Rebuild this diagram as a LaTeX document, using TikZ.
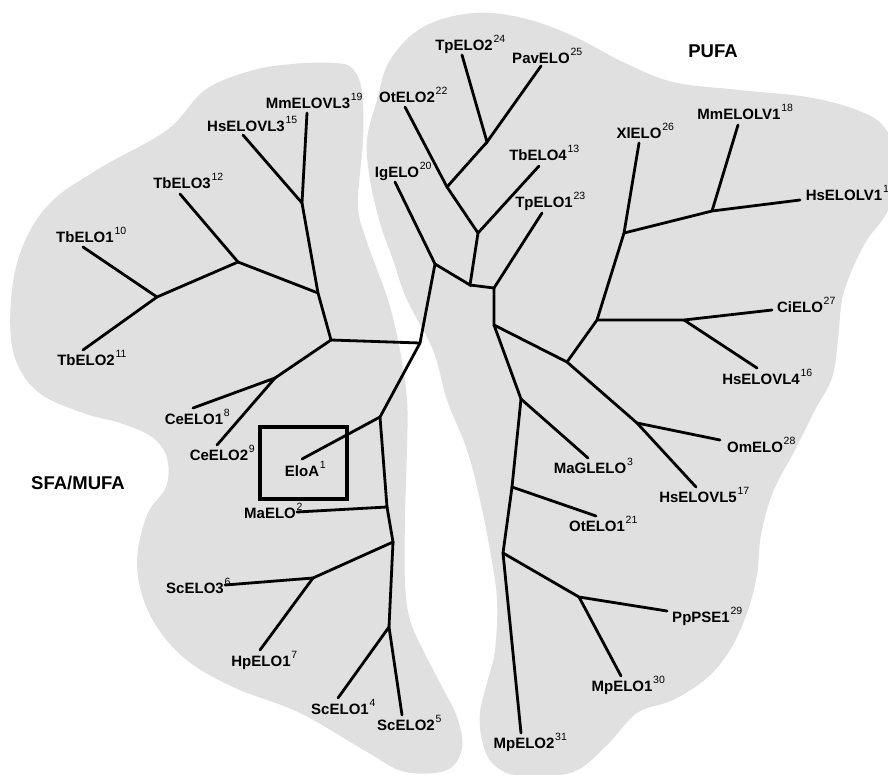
\documentclass[tikz,border=0pt]{standalone}
\usepackage{fontspec}
\setmainfont{Liberation Sans}
\definecolor{BlobGray}{RGB}{224,224,224}
\newcommand{\seqlab}[2]{#1\rlap{\kern0.8pt\raisebox{8pt}{\fontsize{10.5}{10.5}\selectfont\mdseries #2}}}

\begin{document}
\begin{tikzpicture}[x=1pt, y=-1pt,
    branch/.style={line width=2.8pt, line cap=round},
    seq/.style={font=\fontsize{15}{15}\selectfont\bfseries, inner sep=0pt, text height=10.7pt, text depth=0pt},
    group/.style={font=\fontsize{18.5}{18.5}\selectfont\bfseries}]
    \clip (0,0) rectangle (888,774);

    % Groups
    \fill[BlobGray] plot[smooth cycle, tension=0.6] coordinates {
      (292,64) (335,63) (353,69) (362,92) (363,140) (358,205) (367,242) (388,300)
      (400,350) (407,400) (407,450) (405,517) (405,583) (410,620) (423,650) (440,683)
      (457,717) (462,748) (447,770) (405,772) (367,752) (300,713) (233,687) (183,657)
      (150,615) (137,565) (147,515) (166,487) (167,458) (152,437) (120,423) (83,413)
      (38,392) (14,355) (11,300) (22,248) (50,203) (100,168) (167,130) (205,90) (250,71)};
    \fill[BlobGray] plot[smooth cycle, tension=0.6] coordinates {
      (377,100) (390,60) (423,27) (473,13) (523,18) (573,36) (623,62) (673,82)
      (740,90) (807,97) (857,110) (885,128) (898,165) (888,210) (867,240) (852,270)
      (842,300) (838,340) (832,378) (815,410) (795,450) (773,492) (761,535) (757,575)
      (747,613) (730,650) (707,678) (673,700) (637,713) (607,745) (573,772) (520,776)
      (493,764) (482,740) (480,712) (487,683) (495,650) (497,600) (490,550) (480,500)
      (467,450) (447,400) (433,350) (407,300) (393,260) (380,223) (370,180) (367,140)};

    % Junctions
    \coordinate (jA) at (302,203);
    \coordinate (jB) at (238,262);
    \coordinate (jC) at (157,297);
    \coordinate (jD) at (318,293);
    \coordinate (jE) at (331,340);
    \coordinate (jF) at (420,343);
    \coordinate (jG) at (275,378);
    \coordinate (jI) at (380,417);
    \coordinate (jJ) at (387,507);
    \coordinate (jK) at (393,542);
    \coordinate (jL) at (313,578);
    \coordinate (jM) at (389,627);
    \coordinate (jH) at (435,264);
    \coordinate (jN) at (470,285);
    \coordinate (jO) at (478,233);
    \coordinate (jR) at (447,187);
    \coordinate (jS) at (487,142);
    \coordinate (jP) at (494,288);
    \coordinate (jQ) at (494,325);
    \coordinate (jT) at (567,362);
    \coordinate (jV) at (597,320);
    \coordinate (jW) at (624,233);
    \coordinate (jX) at (712,211);
    \coordinate (jY) at (684,320);
    \coordinate (jZ) at (637,423);
    \coordinate (jU) at (521,399);
    \coordinate (jAA) at (512,487);
    \coordinate (jBB) at (503,553);
    \coordinate (jCC) at (579,597);

    % Leaves
    \coordinate (tMmELOVL3) at (307,113);
    \coordinate (tHsELOVL3) at (243,135);
    \coordinate (tTbELO3) at (180,194);
    \coordinate (tTbELO1) at (83,247);
    \coordinate (tTbELO2) at (83,350);
    \coordinate (tCeELO1) at (193,408);
    \coordinate (tCeELO2) at (217,445);
    \coordinate (tEloA) at (302,459);
    \coordinate (tMaELO) at (297,512);
    \coordinate (tScELO3) at (225,585);
    \coordinate (tHpELO1) at (260,650);
    \coordinate (tScELO1) at (338,698);
    \coordinate (tScELO2) at (402,715);
    \coordinate (tIgELO) at (395,182);
    \coordinate (tOtELO2) at (405,107);
    \coordinate (tTpELO2) at (462,55);
    \coordinate (tPavELO) at (541,66);
    \coordinate (tTbELO4) at (539,166);
    \coordinate (tTpELO1) at (542,213);
    \coordinate (tXlELO) at (639,143);
    \coordinate (tMmELOLV1) at (738,125);
    \coordinate (tHsELOLV1) at (800,200);
    \coordinate (tCiELO) at (772,310);
    \coordinate (tHsELOVL4) at (757,368);
    \coordinate (tOmELO) at (720,440);
    \coordinate (tHsELOVL5) at (696,487);
    \coordinate (tMaGLELO) at (588,458);
    \coordinate (tOtELO1) at (596,516);
    \coordinate (tPpPSE1) at (667,611);
    \coordinate (tMpELO1) at (621,676);
    \coordinate (tMpELO2) at (521,733);

    % Branches, SFA/MUFA side
    \draw[branch] (tHsELOVL3) -- (jA) -- (tMmELOVL3);
    \draw[branch] (jA) -- (jD) -- (jE);
    \draw[branch] (jD) -- (jB) -- (tTbELO3);
    \draw[branch] (jB) -- (jC);
    \draw[branch] (tTbELO1) -- (jC) -- (tTbELO2);
    \draw[branch] (jE) -- (jF);
    \draw[branch] (jE) -- (jG);
    \draw[branch] (tCeELO1) -- (jG) -- (tCeELO2);
    \draw[branch] (jF) -- (jI) -- (tEloA);
    \draw[branch] (jI) -- (jJ) -- (tMaELO);
    \draw[branch] (jJ) -- (jK) -- (jL);
    \draw[branch] (tScELO3) -- (jL) -- (tHpELO1);
    \draw[branch] (jK) -- (jM);
    \draw[branch] (tScELO1) -- (jM) -- (tScELO2);

    % Branches, PUFA side
    \draw[branch] (jF) -- (jH) -- (tIgELO);
    \draw[branch] (jH) -- (jN) -- (jO);
    \draw[branch] (jO) -- (tTbELO4);
    \draw[branch] (jO) -- (jR) -- (tOtELO2);
    \draw[branch] (jR) -- (jS);
    \draw[branch] (tTpELO2) -- (jS) -- (tPavELO);
    \draw[branch] (jN) -- (jP) -- (tTpELO1);
    \draw[branch] (jP) -- (jQ) -- (jT);
    \draw[branch] (jT) -- (jV) -- (jW) -- (tXlELO);
    \draw[branch] (jW) -- (jX) -- (tHsELOLV1);
    \draw[branch] (jX) -- (tMmELOLV1);
    \draw[branch] (jV) -- (jY) -- (tCiELO);
    \draw[branch] (jY) -- (tHsELOVL4);
    \draw[branch] (jT) -- (jZ) -- (tHsELOVL5);
    \draw[branch] (jZ) -- (tOmELO);
    \draw[branch] (jQ) -- (jU) -- (tMaGLELO);
    \draw[branch] (jU) -- (jAA) -- (tOtELO1);
    \draw[branch] (jAA) -- (jBB) -- (tMpELO2);
    \draw[branch] (jBB) -- (jCC) -- (tPpPSE1);
    \draw[branch] (jCC) -- (tMpELO1);

    % Labels
    \node[seq] (MmELOVL3) at (308,103) {\seqlab{MmELOVL3}{19}};
    \node[seq] (HsELOVL3) at (246,126) {\seqlab{HsELOVL3}{15}};
    \node[seq] (TbELO3) at (182,183) {\seqlab{TbELO3}{12}};
    \node[seq] (TbELO1) at (85,237) {\seqlab{TbELO1}{10}};
    \node[seq] (TbELO2) at (86,360) {\seqlab{TbELO2}{11}};
    \node[seq] (CeELO1) at (194,419) {\seqlab{CeELO1}{8}};
    \node[seq] (CeELO2) at (219,455) {\seqlab{CeELO2}{9}};
    \node[seq] (EloA) at (302,471) {\seqlab{EloA}{1}};
    \node[seq] (MaELO) at (270,513) {\seqlab{MaELO}{2}};
    \node[seq] (ScELO3) at (195,588) {\seqlab{ScELO3}{6}};
    \node[seq] (HpELO1) at (261,661) {\seqlab{HpELO1}{7}};
    \node[seq] (ScELO1) at (340,709) {\seqlab{ScELO1}{4}};
    \node[seq] (ScELO2) at (406,725) {\seqlab{ScELO2}{5}};
    \node[seq] (IgELO) at (397,172) {\seqlab{IgELO}{20}};
    \node[seq] (OtELO2) at (407,97) {\seqlab{OtELO2}{22}};
    \node[seq] (TpELO2) at (464,45) {\seqlab{TpELO2}{24}};
    \node[seq] (PavELO) at (541,58) {\seqlab{PavELO}{25}};
    \node[seq] (TbELO4) at (538,155) {\seqlab{TbELO4}{13}};
    \node[seq] (TpELO1) at (544,202) {\seqlab{TpELO1}{23}};
    \node[seq] (XlELO) at (639,133) {\seqlab{XlELO}{26}};
    \node[seq] (MmELOLV1) at (739,114) {\seqlab{MmELOLV1}{18}};
    \node[seq] (HsELOLV1) at (844,195) {\seqlab{HsELOLV1}{14}};
    \node[seq] (CiELO) at (800,307) {\seqlab{CiELO}{27}};
    \node[seq] (HsELOVL4) at (761,379) {\seqlab{HsELOVL4}{16}};
    \node[seq] (OmELO) at (755,447) {\seqlab{OmELO}{28}};
    \node[seq] (HsELOVL5) at (698,497) {\seqlab{HsELOVL5}{17}};
    \node[seq] (MaGLELO) at (590,468) {\seqlab{MaGLELO}{3}};
    \node[seq] (OtELO1) at (597,526) {\seqlab{OtELO1}{21}};
    \node[seq] (PpPSE1) at (701,617) {\seqlab{PpPSE1}{29}};
    \node[seq] (MpELO1) at (622,686) {\seqlab{MpELO1}{30}};
    \node[seq] (MpELO2) at (524,743) {\seqlab{MpELO2}{31}};

    % EloA highlight
    \draw[line width=4.5pt] (260,427) rectangle (347,499);

    % Group names
    \node[group] (sfamufa) at (78,483) {SFA/MUFA};
    \node[group] (pufa) at (713,51) {PUFA};
\end{tikzpicture}
\end{document}
